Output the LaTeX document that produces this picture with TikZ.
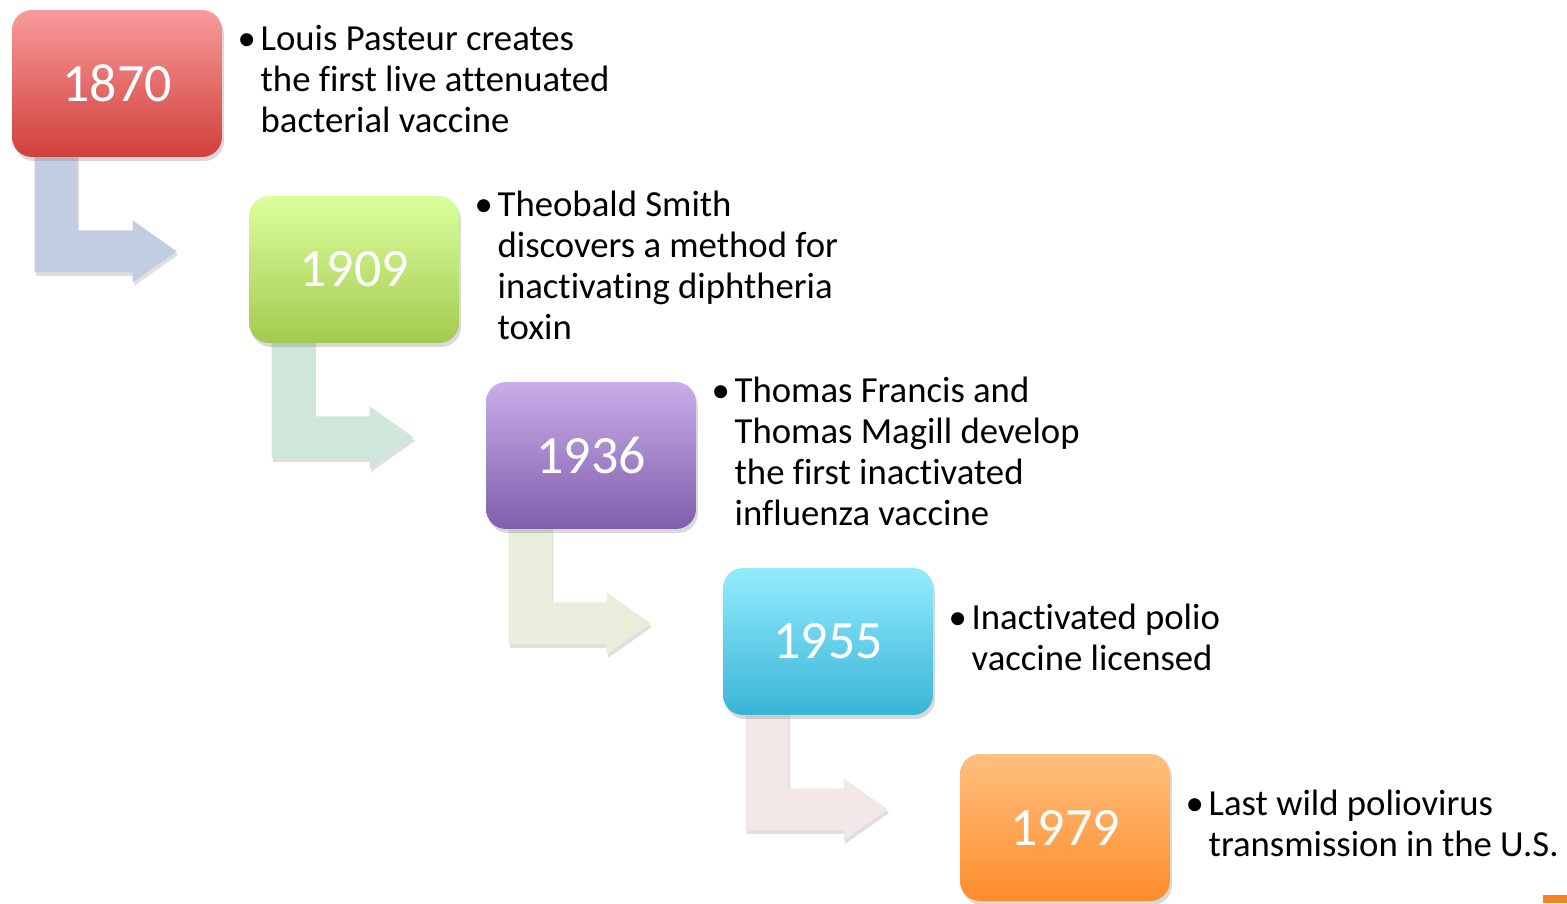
\documentclass[tikz,border=0pt]{standalone}
\usepackage{fontspec}
\setmainfont[Ligatures=NoCommon]{Carlito}
\usetikzlibrary{positioning,calc,shadows,backgrounds}
\definecolor{redtop}{HTML}{F99B9B}   \definecolor{redbot}{HTML}{D03F3B}
\definecolor{greentop}{HTML}{DCFE9E} \definecolor{greenbot}{HTML}{A3CA4F}
\definecolor{violtop}{HTML}{C9AEEA}  \definecolor{violbot}{HTML}{7F5DAC}
\definecolor{cyantop}{HTML}{93ECFD}  \definecolor{cyanbot}{HTML}{3AB4D7}
\definecolor{orgtop}{HTML}{FFBF80}   \definecolor{orgbot}{HTML}{FF8C2A}
\definecolor{arblue}{HTML}{C3CDE1}   \definecolor{argreen}{HTML}{CFE6DB}
\definecolor{arolive}{HTML}{E8EDDC}  \definecolor{arrose}{HTML}{F2E8E8}
\definecolor{cornerorg}{HTML}{F58220}
\tikzset{
  yearbox/.style={rounded corners=0.4cm,minimum width=4.2cm,minimum height=2.94cm,
    inner sep=0pt,text=white,font=\fontsize{30.7}{36}\selectfont,
    drop shadow={shadow xshift=0.04cm,shadow yshift=-0.08cm,opacity=0.3}},
  bentarrow/.style={drop shadow={shadow xshift=0.03cm,shadow yshift=-0.07cm,opacity=0.25}},
  notetext/.style={anchor=west,inner sep=0pt,font=\fontsize{20.9}{23.3}\selectfont},
}

\begin{document}
\begin{tikzpicture}[x=0.02cm,y=-0.02cm]
  \useasboundingbox (0,0) rectangle (1567,903);
  % ---- year boxes with their notes ----
  \foreach \yr/\tc/\bc/\ac/\note [count=\i from 0] in {
      1870/redtop/redbot/arblue/{Louis Pasteur creates\\ & the first live attenuated\\ & bacterial vaccine},
      1909/greentop/greenbot/argreen/{Theobald Smith\\ & discovers a method for\\ & inactivating diphtheria\\ & toxin},
      1936/violtop/violbot/arolive/{Thomas Francis and\\ & Thomas Magill develop\\ & the first inactivated\\ & influenza vaccine},
      1955/cyantop/cyanbot/arrose/{Inactivated polio\\ & vaccine licensed},
      1979/orgtop/orgbot/none/{Last wild poliovirus\\ & transmission in the U.S.}} {
    \node[yearbox,top color=\tc,bottom color=\bc] (y\yr) at ({117+237*\i},{83.5+186*\i}) {\yr};
    \node[notetext] (n\yr) at ($(y\yr.east)+(15,0)$)
      {\begin{tabular}{@{}l@{}l@{}}\makebox[0.46cm][l]{\textbullet} & \note\end{tabular}};
    % ---- bent arrow under the box ----
    \ifnum\i<4
      \begin{scope}[on background layer]
        \fill[bentarrow,fill=\ac] ($(y\yr.south west)+(23,-8)$) -- ++(43,0) -- ++(0,81)
          -- ++(55,0) -- ++(0,-10) -- ++(44,31) -- ++(-44,31) -- ++(0,-10)
          -- ++(-98,0) -- cycle;
      \end{scope}
    \fi
  }
  % ---- corner mark ----
  \fill[cornerorg] (1543,895) rectangle (1567,903);
\end{tikzpicture}
\end{document}
